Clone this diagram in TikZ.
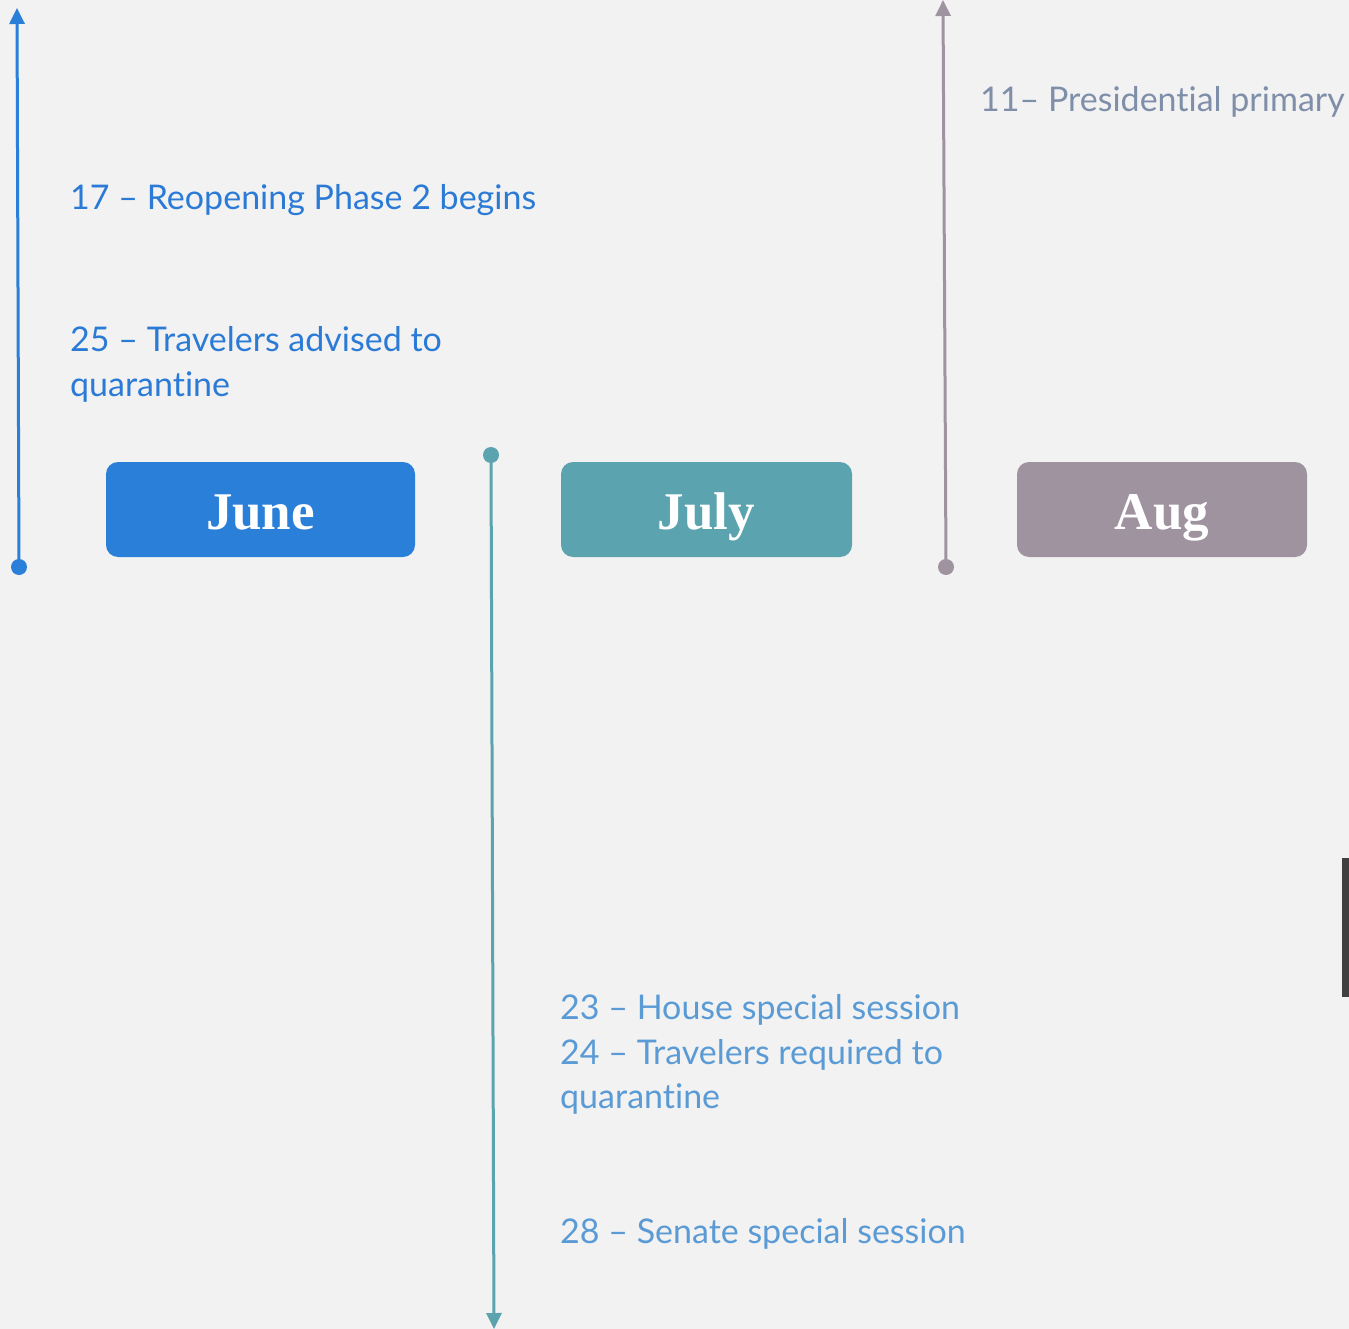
\documentclass[tikz,border=0pt]{standalone}
\usepackage{fontspec}
\setmainfont{Lato}[Ligatures={NoCommon}]
\newfontfamily\monthfont{Liberation Serif}
\usetikzlibrary{arrows.meta}
\definecolor{bg}{HTML}{F2F2F2}
\definecolor{junec}{HTML}{2A7FD8}
\definecolor{julyc}{HTML}{5BA3AE}
\definecolor{augc}{HTML}{A093A0}
\definecolor{junetxt}{HTML}{2B7BD6}
\definecolor{julytxt}{HTML}{5B9BD5}
\definecolor{augtxt}{HTML}{7F8FA9}
\definecolor{barc}{HTML}{404040}
\begin{document}
\begin{tikzpicture}[x=1pt,y=-1pt,
  month/.style={rounded corners=12pt, minimum width=309pt, minimum height=95pt, inner sep=0pt,
     text=white, font=\monthfont\bfseries\fontsize{53}{53}\selectfont},
  evt/.style={anchor=base west, inner sep=0pt, font=\fontsize{34}{34}\selectfont},
  tl/.style={line width=3pt},
  dotc/.style={circle, inner sep=0pt, minimum size=16pt}
]
\fill[bg] (0,0) rectangle (1349,1329);
\useasboundingbox (0,0) rectangle (1349,1329);
% month boxes
\node[month, fill=junec] (june) at (260.5,509.5) {};
\node[month, fill=julyc, minimum width=291pt] (july) at (706.5,509.5) {};
\node[month, fill=augc, minimum width=290pt] (aug) at (1162,509.5) {};
\node[anchor=base, inner sep=0pt, text=white, font=\monthfont\bfseries\fontsize{53}{53}\selectfont] (junet) at (260.5,529) {June};
\node[anchor=base, inner sep=0pt, text=white, font=\monthfont\bfseries\fontsize{53}{53}\selectfont] (julyt) at (706.5,529) {July};
\node[anchor=base, inner sep=0pt, text=white, font=\monthfont\bfseries\fontsize{53}{53}\selectfont] (augt) at (1162,529) {Aug};
% timeline lines
\node[dotc, fill=junec] (jdot) at (19,567) {};
\coordinate (jtop) at (17,8);
\draw[tl, junec, -{Triangle[length=16pt,width=15pt]}] (jdot.center) -- (jtop);
\node[dotc, fill=julyc] (ldot) at (491,455) {};
\coordinate (lbot) at (494,1329);
\draw[tl, julyc, -{Triangle[length=16pt,width=15pt]}] (ldot.center) -- (lbot);
\node[dotc, fill=augc] (adot) at (946,567) {};
\coordinate (atop) at (943,0);
\draw[tl, augc, -{Triangle[length=16pt,width=15pt]}] (adot.center) -- (atop);
% events
\node[evt, text=junetxt] (e17) at (70,210) {17 – Reopening Phase 2 begins};
\node[evt, text=junetxt] (e25a) at (70,352) {25 – Travelers advised to};
\node[evt, text=junetxt] (e25b) at (70,396) {quarantine};
\node[evt, text=augtxt] (e11) at (980,112) {11– Presidential primary};
\node[evt, text=julytxt] (e23) at (560,1019) {23 – House special session};
\node[evt, text=julytxt] (e24a) at (560,1064) {24 – Travelers required to};
\node[evt, text=julytxt] (e24b) at (560,1108) {quarantine};
\node[evt, text=julytxt] (e28) at (560,1243) {28 – Senate special session};
% right edge bar
\fill[barc] (1342,858) rectangle (1349,997);
\end{tikzpicture}
\end{document}
